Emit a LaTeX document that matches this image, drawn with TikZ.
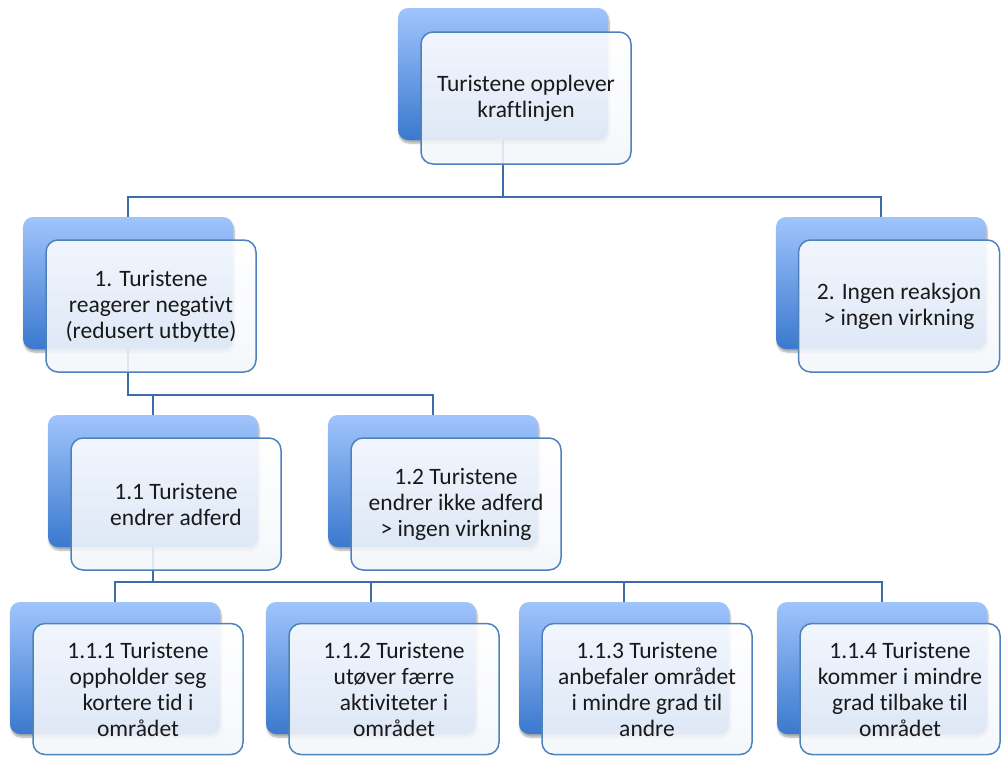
\documentclass[tikz,border=0pt]{standalone}
\usepackage{fontspec}
\setmainfont{Carlito}[Ligatures=NoCommon]
\usepackage{tikz}
\usetikzlibrary{positioning, calc, backgrounds, shadows.blur}
\definecolor{backtop}{HTML}{A0C4FC}
\definecolor{backbot}{HTML}{3A79CE}
\definecolor{fronttop}{HTML}{FFFFFF}
\definecolor{frontbot}{HTML}{F3F6FB}
\definecolor{edgeblue}{HTML}{4F81BD}
\definecolor{linkblue}{HTML}{3E6CA6}

\begin{document}
\begin{tikzpicture}[
    x=1pt, y=-1pt,
    back/.style={rectangle, rounded corners=10pt, minimum width=210pt, minimum height=132pt, top color=backtop, bottom color=backbot, draw=none,
      blur shadow={shadow xshift=1pt, shadow yshift=-3pt, shadow opacity=35, shadow blur steps=6}},
    front/.style={rectangle, rounded corners=12pt, draw=edgeblue, line width=1.5pt, top color=fronttop, bottom color=frontbot, fill opacity=0.88, text opacity=1,
      minimum width=210pt, minimum height=132pt, align=center, font=\fontsize{23.5}{26}\selectfont, text=black!90},
    conn/.style={draw=linkblue, line width=2pt},
  ]
  \useasboundingbox (0,0) rectangle (1001,756);

  % Back panels
  \node[back] (top-b) at (503,74) {};
  \node[back] (n1-b) at (128,283) {};
  \node[back] (n2-b) at (881,283) {};
  \node[back] (n11-b) at (153,481) {};
  \node[back] (n12-b) at (433,481) {};
  \node[back] (n111-b) at (115,668) {};
  \node[back] (n112-b) at (371,668) {};
  \node[back] (n113-b) at (624,668) {};
  \node[back] (n114-b) at (882,668) {};

  % Front boxes
  \node[front] (top) at (526,98) {Turistene opplever\\kraftlinjen};
  \node[front] (n1) at (151,306) {1. Turistene\\reagerer negativt\\(redusert utbytte)};
  \node[front, minimum width=201pt] (n2) at (899,306) {2. Ingen reaksjon\\> ingen virkning};
  \node[front] (n11) at (176,504) {1.1 Turistene\\endrer adferd};
  \node[front] (n12) at (456,504) {1.2 Turistene\\endrer ikke adferd\\> ingen virkning};
  \node[front, minimum height=131pt] (n111) at (138,689) {1.1.1 Turistene\\oppholder seg\\kortere tid i\\området};
  \node[front, minimum height=131pt] (n112) at (394,689) {1.1.2 Turistene\\utøver færre\\aktiviteter i\\området};
  \node[front, minimum height=131pt] (n113) at (647,689) {1.1.3 Turistene\\anbefaler området\\i mindre grad til\\andre};
  \node[front, minimum height=131pt, minimum width=200pt] (n114) at (900,689) {1.1.4 Turistene\\kommer i mindre\\grad tilbake til\\området};

  % Connectors
  \coordinate (bus0) at (0,197);
  \coordinate (bus1) at (0,395);
  \coordinate (bus2) at (0,582);
  \begin{scope}[on background layer]
    \draw[conn] (top-b.south) -- (top-b.south |- bus0) -| (n1-b.north);
    \draw[conn] (top-b.south |- bus0) -| (n2-b.north);
    \draw[conn] (n1-b.south) -- (n1-b.south |- bus1) -| (n11-b.north);
    \draw[conn] (n1-b.south |- bus1) -| (n12-b.north);
    \draw[conn] (n11-b.south) -- (n11-b.south |- bus2) -| (n111-b.north);
    \draw[conn] (n11-b.south |- bus2) -| (n112-b.north);
    \draw[conn] (n11-b.south |- bus2) -| (n113-b.north);
    \draw[conn] (n11-b.south |- bus2) -| (n114-b.north);
  \end{scope}
\end{tikzpicture}
\end{document}
